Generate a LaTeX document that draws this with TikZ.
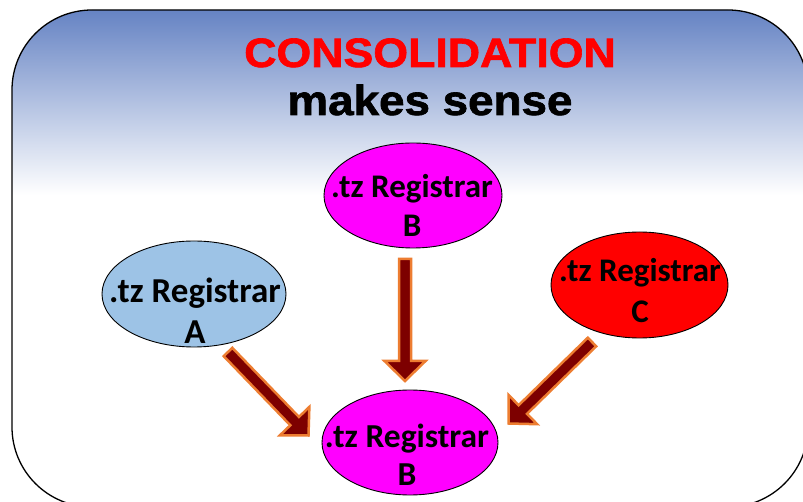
\documentclass[tikz,border=0pt]{standalone}
\usepackage{fontspec}
\setmainfont{Carlito}
\newfontfamily\titlefont[FakeStretch=1.09,FakeBold=1.6]{Liberation Sans}
\usetikzlibrary{shapes.geometric,calc}
\definecolor{topblue}{RGB}{100,130,195}
\definecolor{lightblue}{RGB}{157,195,230}
\definecolor{arrowfill}{RGB}{125,0,0}
\definecolor{arrowline}{RGB}{237,125,49}
\definecolor{magentaB}{RGB}{255,0,255}
\definecolor{redC}{RGB}{255,0,0}
\tikzset{
  regnode/.style={ellipse, draw=black, line width=0.9pt, inner sep=0pt},
  reglabel/.style={font=\bfseries\fontsize{33}{39}\selectfont, anchor=base, inner sep=0pt},
  blockarrow/.style={fill=arrowfill, draw=arrowline, line width=2.5pt, line join=miter},
  titletext/.style={font=\titlefont\bfseries\fontsize{41}{48}\selectfont, anchor=base, inner sep=0pt},
}
\newcommand{\blockarr}[2]{%
  \coordinate (hb) at ($(#2)!20pt!(#1)$);
  \filldraw[blockarrow] ($(#1)!6pt!90:(#2)$) -- ($(hb)!6pt!90:(#2)$) -- ($(hb)!20.5pt!90:(#2)$) -- (#2)
    -- ($(hb)!20.5pt!-90:(#2)$) -- ($(hb)!6pt!-90:(#2)$) -- ($(#1)!6pt!-90:(#2)$) -- cycle;}
\begin{document}
\begin{tikzpicture}[x=1pt,y=-1pt]
\useasboundingbox (0,0) rectangle (803,502);
% background panel
\begin{scope}
  \clip[rounded corners=80pt] (12,10) rectangle (808,507);
  \fill[white] (0,0) rectangle (820,520);
  \shade[top color=topblue, bottom color=white] (0,8) rectangle (820,195);
\end{scope}
\draw[line width=1.3pt, rounded corners=80pt] (12,10) rectangle (808,507);
% title
\node[titletext, text=red] (t1) at (430,67) {CONSOLIDATION};
\node[titletext, font=\titlefont\bfseries\fontsize{42}{48}\selectfont] (t2) at (430,115) {makes sense};
% registrars
\node[regnode, fill=magentaB, minimum width=178pt, minimum height=105pt] (Bt) at (413,195.5) {};
\node[reglabel] (Bt1) at (412,198) {.tz Registrar};
\node[reglabel] (Bt2) at (412,237) {B};
\node[regnode, fill=lightblue, minimum width=184pt, minimum height=106pt] (A) at (194,294) {};
\node[reglabel, font=\bfseries\fontsize{35}{41}\selectfont] (A1) at (195,303) {.tz Registrar};
\node[reglabel, font=\bfseries\fontsize{35}{41}\selectfont] (A2) at (195,344) {A};
\node[regnode, fill=redC, minimum width=177pt, minimum height=106pt] (C) at (639.5,285) {};
\node[reglabel] (C1) at (640,282) {.tz Registrar};
\node[reglabel] (C2) at (640,323) {C};
\node[regnode, fill=magentaB, minimum width=176pt, minimum height=105pt] (Bb) at (410,442.5) {};
\node[reglabel, font=\bfseries\fontsize{33.5}{39}\selectfont] (Bb1) at (407,447) {.tz Registrar};
\node[reglabel, font=\bfseries\fontsize{33.5}{39}\selectfont] (Bb2) at (407,485) {B};
% arrows
\coordinate (vs) at (405,259);
\coordinate (ve) at (405,381);
\coordinate (ls) at (228,352);
\coordinate (le) at (308.5,435.5);
\coordinate (rs) at (592,342);
\coordinate (re) at (508.5,423.5);
\blockarr{vs}{ve}
\blockarr{ls}{le}
\blockarr{rs}{re}
\end{tikzpicture}
\end{document}
